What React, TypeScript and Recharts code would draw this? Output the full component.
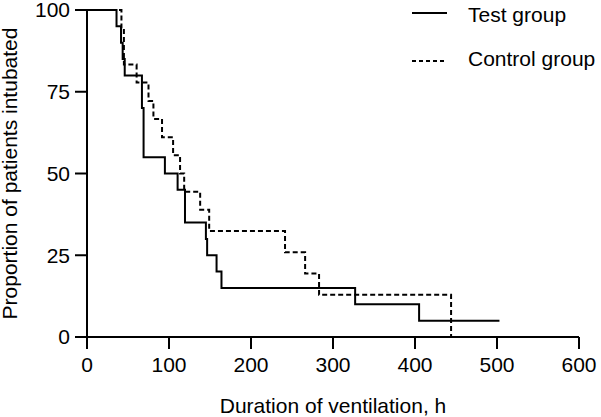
import React from "react";
import { LineChart, Line, XAxis, YAxis } from "recharts";

// Test group (solid): time (h) and proportion still intubated (%)
const testTimes = [0, 36, 41.5, 43.5, 46, 67, 69, 95, 110.5, 119.5, 145, 146.5, 158, 164, 327, 405, 503];
const testValues = [100, 95, 90, 85, 80, 70, 55, 50, 45, 35, 30, 25, 20, 15, 10, 5, 5];

// Control group (dashed)
const controlTimes = [0, 42, 45, 60.5, 75, 81, 91.5, 105, 113.5, 118.5, 138, 149, 241.5, 266, 283, 444];
const controlValues = [100, 94.4, 83.3, 77.8, 72.2, 66.7, 61.1, 55.6, 50, 44.4, 38.9, 32.4, 25.9, 19.4, 12.9, 0];

const xTicks = [0, 100, 200, 300, 400, 500, 600];
const yTicks = [0, 25, 50, 75, 100];

const seriesNames = ["Test group", "Control group"];
const xTitle = "Duration of ventilation, h";
const yTitle = "Proportion of patients intubated";

const testData = testTimes.map((t, i) => ({ t, v: testValues[i] }));
const controlData = controlTimes.map((t, i) => ({ t, v: controlValues[i] }));

const FONT = "'Liberation Sans', Arial, sans-serif";
const tickStyle = { fontSize: 21, fill: "#000", fontFamily: FONT };

const XTitle = (props: any) => {
  const vb = props.viewBox || {};
  return (
    <text
      x={vb.x + vb.width / 2}
      y={413}
      textAnchor="middle"
      fontSize={21}
      fontFamily={FONT}
      fill="#000"
    >
      {xTitle}
    </text>
  );
};

const YTitle = (props: any) => {
  const vb = props.viewBox || {};
  const cy = vb.y + vb.height / 2;
  return (
    <text
      x={17}
      y={cy}
      transform={`rotate(-90, 17, ${cy})`}
      textAnchor="middle"
      fontSize={21}
      fontFamily={FONT}
      fill="#000"
    >
      {yTitle}
    </text>
  );
};

const LegendOverlay = () => (
  <svg
    width={200}
    height={80}
    style={{ position: "absolute", left: 400, top: 0, overflow: "visible" }}
  >
    <line x1={12} x2={47} y1={13} y2={13} stroke="#000" strokeWidth={2} />
    <text x={68} y={22} fontSize={21} fontFamily={FONT} fill="#000">
      {seriesNames[0]}
    </text>
    <line x1={12} x2={47} y1={61} y2={61} stroke="#000" strokeWidth={2} strokeDasharray="4 3" />
    <text x={68} y={66} fontSize={21} fontFamily={FONT} fill="#000">
      {seriesNames[1]}
    </text>
  </svg>
);

export default function App() {
  return (
    <div style={{ position: "absolute", left: 0, top: 0, width: 601, height: 417, background: "#fff" }}>
      <LineChart
        width={601}
        height={417}
        margin={{ top: 10, right: 22, left: 0, bottom: 0 }}
      >
        <XAxis
          dataKey="t"
          type="number"
          domain={[0, 600]}
          ticks={xTicks}
          interval={0}
          allowDataOverflow
          height={80}
          tickSize={12}
          tickMargin={8}
          tick={tickStyle}
          axisLine={{ stroke: "#000", strokeWidth: 2 }}
          tickLine={{ stroke: "#000", strokeWidth: 2 }}
          label={<XTitle />}
        />
        <YAxis
          type="number"
          domain={[0, 100]}
          ticks={yTicks}
          interval={0}
          width={87}
          tickSize={12}
          tickMargin={5}
          tick={tickStyle}
          axisLine={{ stroke: "#000", strokeWidth: 2 }}
          tickLine={{ stroke: "#000", strokeWidth: 2 }}
          label={<YTitle />}
        />
        <Line
          data={testData}
          dataKey="v"
          type="stepAfter"
          stroke="#000"
          strokeWidth={2}
          dot={false}
          activeDot={false}
          isAnimationActive={false}
          name={seriesNames[0]}
        />
        <Line
          data={controlData}
          dataKey="v"
          type="stepAfter"
          stroke="#000"
          strokeWidth={2}
          strokeDasharray="5 3"
          dot={false}
          activeDot={false}
          isAnimationActive={false}
          name={seriesNames[1]}
        />
      </LineChart>
      <LegendOverlay />
    </div>
  );
}
